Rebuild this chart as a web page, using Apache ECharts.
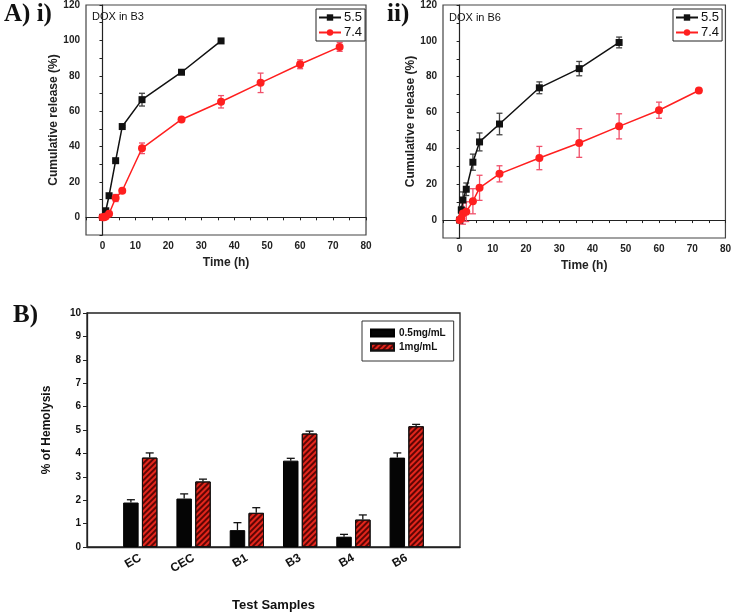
<!DOCTYPE html>
<html>
<head>
<meta charset="utf-8">
<script src="https://cdn.jsdelivr.net/npm/echarts@6/dist/echarts.min.js"></script>
<style>html,body{margin:0;padding:0;background:#fff}#c{width:734px;height:613px}</style>
</head>
<body>
<div id="c"></div>
<script>
// ---------- Data ----------
// Panel A i : DOX in B3
var b3_t55 = [0, 1, 2, 4, 6, 12, 24, 36];
var b3_v55 = [0, 3.7, 12.2, 32, 51.3, 66.5, 82, 99.7];
var b3_e55 = [0, 0.5, 1, 0.5, 0.5, 3.6, 0.5, 0.5];
var b3_t74 = [0, 0.5, 1, 2, 4, 6, 12, 24, 36, 48, 60, 72];
var b3_v74 = [0, 0, 0.5, 2, 10.9, 15, 39, 55.3, 65.3, 76, 86.5, 96.3];
var b3_e74 = [0, 0, 0, 1, 2, 1, 3, 1, 3.5, 5.5, 2.5, 2.5];
// Panel A ii : DOX in B6
var b6_t55 = [0, 0.5, 1, 2, 4, 6, 12, 24, 36, 48];
var b6_v55 = [0, 5.6, 11.2, 17.2, 32.3, 43.6, 53.6, 73.8, 84.5, 99.1];
var b6_e55 = [0, 2, 4.5, 3.5, 4.5, 5, 6, 3.3, 4, 3];
var b6_t74 = [0, 0.5, 1, 2, 4, 6, 12, 24, 36, 48, 60, 72];
var b6_v74 = [0, 1, 3.7, 4.7, 10.5, 18, 25.8, 34.6, 43, 52.3, 61.3, 72.3];
var b6_e74 = [0, 1, 6, 5.5, 7, 7, 4.5, 6.5, 8, 7, 4.5, 0.5];
// Panel B : hemolysis
var samples = ['EC', 'CEC', 'B1', 'B3', 'B4', 'B6'];
var hem05 = [1.9, 2.07, 0.72, 3.69, 0.44, 3.82];
var hem05err = [0.12, 0.2, 0.32, 0.1, 0.1, 0.2];
var hem1 = [3.82, 2.8, 1.46, 4.85, 1.17, 5.16];
var hem1err = [0.2, 0.1, 0.22, 0.1, 0.2, 0.08];

// ---------- Helpers ----------
function zip(t, v) { return t.map(function (x, i) { return [x, v[i]]; }); }
function zip3(t, v, e) { return t.map(function (x, i) { return [x, v[i], e[i]]; }); }
function errRender(color, capW, offset, upOnly) {
  return function (params, api) {
    var x = api.value(0), y = api.value(1), e = api.value(2);
    if (!e) return null;
    var top = api.coord([x, y + e]);
    var bot = upOnly ? api.coord([x, y]) : api.coord([x, y - e]);
    var cx = top[0] + offset;
    var st = { stroke: color, lineWidth: 1.3 };
    var ch = [
      { type: 'line', shape: { x1: cx, y1: top[1], x2: cx, y2: bot[1] }, style: st },
      { type: 'line', shape: { x1: cx - capW / 2, y1: top[1], x2: cx + capW / 2, y2: top[1] }, style: st }
    ];
    if (!upOnly) ch.push({ type: 'line', shape: { x1: cx - capW / 2, y1: bot[1], x2: cx + capW / 2, y2: bot[1] }, style: st });
    return { type: 'group', children: ch };
  };
}
var FONT = 'Liberation Sans';
var black = '#111', red = '#ff1f1f';

function aX(gi) {
  return {
    type: 'value', gridIndex: gi, min: -5, max: 80, interval: 5,
    axisLine: { lineStyle: { color: '#222', width: 1.2 } },
    axisTick: { show: true, length: 3, lineStyle: { color: '#222' } },
    splitLine: { show: false },
    axisLabel: { fontFamily: FONT, fontSize: 10, fontWeight: 'bold', color: '#222', margin: 6,
      formatter: function (v) { return (v >= 0 && v % 10 === 0) ? String(v) : ''; } },
    name: 'Time (h)', nameLocation: 'middle', nameGap: 22,
    nameTextStyle: { fontFamily: FONT, fontSize: 12, fontWeight: 'bold', color: '#222' }
  };
}
function aY(gi) {
  return {
    type: 'value', gridIndex: gi, min: -10, max: 120, interval: 10,
    axisLine: { show: true, lineStyle: { color: '#222', width: 1.2 } },
    axisTick: { show: true, length: 3, lineStyle: { color: '#222' } },
    splitLine: { show: false },
    axisLabel: { fontFamily: FONT, fontSize: 10, fontWeight: 'bold', color: '#222', margin: 6,
      formatter: function (v) { return (v >= 0 && v % 20 === 0) ? String(v) : ''; } },
    name: 'Cumulative release (%)', nameLocation: 'middle', nameGap: 24,
    nameTextStyle: { fontFamily: FONT, fontSize: 12, fontWeight: 'bold', color: '#222' }
  };
}
function lineS(name, gi, data, color, symbol, size) {
  return { type: 'line', name: name, xAxisIndex: gi, yAxisIndex: gi, data: data,
    symbol: symbol, symbolSize: size, lineStyle: { color: color, width: 1.5 },
    itemStyle: { color: color }, z: 3, animation: false };
}
function errS(gi, data, color) {
  return { type: 'custom', xAxisIndex: gi, yAxisIndex: gi, data: data, z: 2,
    renderItem: errRender(color, 6, 0, false), silent: true, animation: false };
}
function legendA(left) {
  return { data: ['5.5', '7.4'], orient: 'vertical', left: left, top: 9, itemWidth: 22, itemHeight: 8,
    itemGap: 2, padding: [2, 3, 2, 2], borderColor: '#222', borderWidth: 1, selectedMode: false,
    textStyle: { fontFamily: FONT, fontSize: 13, color: '#111', padding: [0, 0, 0, -2] } };
}

var barW = 15.5, gapPx = 3.3, off = (barW + gapPx) / 2;
var cats = [''].concat(samples).concat(['']);
function pad(a) { return [null].concat(a).concat([null]); }
function idxData(v, e) { return v.map(function (x, i) { return [i + 1, x, e[i]]; }); }

var chart = echarts.init(document.getElementById('c'), null, { renderer: 'canvas' });
chart.setOption({
  animation: false,
  backgroundColor: '#fff',
  textStyle: { fontFamily: FONT },
  grid: [
    { left: 86, top: 5, width: 280, height: 230, show: true, borderColor: '#444', borderWidth: 1.2 },
    { left: 443, top: 5, width: 285, height: 233, show: true, borderColor: '#444', borderWidth: 1.2 },
    { left: 87, top: 313, width: 373, height: 239, show: true, borderColor: '#222', borderWidth: 1.3 }
  ],
  xAxis: [aX(0), aX(1), {
    type: 'category', gridIndex: 2, data: cats, boundaryGap: false,
    axisLine: { lineStyle: { color: '#222', width: 1.3 } }, axisTick: { show: false },
    axisLabel: { fontFamily: FONT, fontSize: 12, fontWeight: 'bold', color: '#111', rotate: 30, margin: 10, interval: 0 },
    name: 'Test Samples', nameLocation: 'middle', nameGap: 52,
    nameTextStyle: { fontFamily: FONT, fontSize: 13, fontWeight: 'bold', color: '#111' }
  }],
  yAxis: [aY(0), aY(1), {
    type: 'value', gridIndex: 2, min: 0, max: 10, interval: 1,
    axisLine: { show: true, lineStyle: { color: '#222', width: 1.3 } },
    axisTick: { show: true, length: 4, lineStyle: { color: '#222' } },
    splitLine: { show: false },
    axisLabel: { fontFamily: FONT, fontSize: 10, fontWeight: 'bold', color: '#111', margin: 6 },
    name: '% of Hemolysis', nameLocation: 'middle', nameGap: 34,
    nameTextStyle: { fontFamily: FONT, fontSize: 12, fontWeight: 'bold', color: '#111' }
  }],
  legend: [legendA(316), legendA(673), {
    data: ['0.5mg/mL', '1mg/mL'], orient: 'vertical', left: 362, top: 321, itemWidth: 23, itemHeight: 7,
    icon: 'rect', itemGap: 4, padding: [7, 8, 9, 8], borderColor: '#333', borderWidth: 1, selectedMode: false,
    textStyle: { fontFamily: FONT, fontSize: 10, fontWeight: 'bold', color: '#111' }
  }],
  series: [
    errS(0, zip3(b3_t55, b3_v55, b3_e55), '#444'),
    errS(0, zip3(b3_t74, b3_v74, b3_e74), '#f0506a'),
    lineS('5.5', 0, zip(b3_t55, b3_v55), black, 'rect', 7),
    lineS('7.4', 0, zip(b3_t74, b3_v74), red, 'circle', 8),
    errS(1, zip3(b6_t55, b6_v55, b6_e55), '#444'),
    errS(1, zip3(b6_t74, b6_v74, b6_e74), '#f0506a'),
    lineS('5.5', 1, zip(b6_t55, b6_v55), black, 'rect', 7),
    lineS('7.4', 1, zip(b6_t74, b6_v74), red, 'circle', 8),
    { type: 'bar', name: '0.5mg/mL', xAxisIndex: 2, yAxisIndex: 2, data: pad(hem05), barWidth: barW,
      barGap: (gapPx / barW * 100).toFixed(1) + '%',
      itemStyle: { color: '#050505', borderColor: '#000', borderWidth: 1 } },
    { type: 'bar', name: '1mg/mL', xAxisIndex: 2, yAxisIndex: 2, data: pad(hem1), barWidth: barW,
      itemStyle: { color: '#e3261c', borderColor: '#111', borderWidth: 1,
        decal: { symbol: 'rect', symbolSize: 1, color: 'rgba(70,0,0,0.85)', dashArrayX: [1, 0], dashArrayY: [1.2, 1.8], rotation: -Math.PI / 4 } } },
    { type: 'custom', xAxisIndex: 2, yAxisIndex: 2, data: idxData(hem05, hem05err), z: 5,
      renderItem: errRender('#111', 8, -off, true), silent: true },
    { type: 'custom', xAxisIndex: 2, yAxisIndex: 2, data: idxData(hem1, hem1err), z: 5,
      renderItem: errRender('#111', 8, off, true), silent: true }
  ],
  graphic: [
    { type: 'text', left: 4, top: 2, style: { text: 'A) i)', font: 'bold 25px "Liberation Serif"', fill: '#111' } },
    { type: 'text', left: 387, top: 2, style: { text: 'ii)', font: 'bold 25px "Liberation Serif"', fill: '#111' } },
    { type: 'text', left: 13, top: 303, style: { text: 'B)', font: 'bold 25px "Liberation Serif"', fill: '#111' } },
    { type: 'text', left: 92, top: 11, style: { text: 'DOX in B3', font: '11px "Liberation Sans"', fill: '#111' } },
    { type: 'text', left: 449, top: 12, style: { text: 'DOX in B6', font: '11px "Liberation Sans"', fill: '#111' } }
  ]
});
</script>
</body>
</html>
